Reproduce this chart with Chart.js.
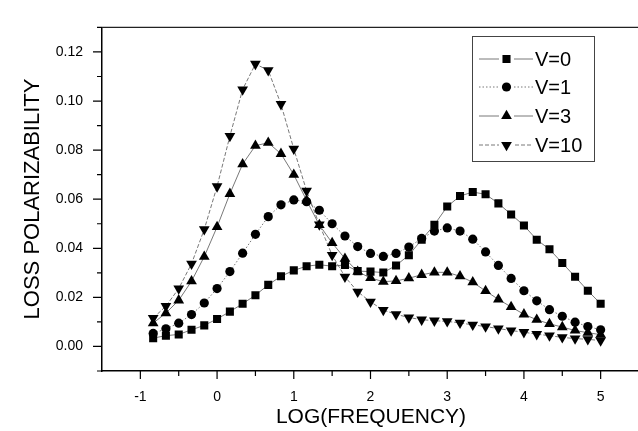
<!DOCTYPE html>
<html>
<head>
<meta charset="utf-8">
<script src="https://cdn.jsdelivr.net/npm/chart.js@4.4.1/dist/chart.umd.min.js"></script>
<style>
  html, body { margin: 0; padding: 0; background: #fff; overflow: hidden; }
  #wrap { width: 638px; height: 431px; overflow: hidden; }
</style>
</head>
<body>
<div id="wrap"><canvas id="lossChart" width="646" height="431"></canvas></div>
<script>
// log(frequency) positions of the measured points
const logFreq = [-0.833, -0.667, -0.5, -0.333, -0.167, 0, 0.167, 0.333, 0.5, 0.667, 0.833, 1,
    1.167, 1.333, 1.5, 1.667, 1.833, 2, 2.167, 2.333, 2.5, 2.667, 2.833, 3,
    3.167, 3.333, 3.5, 3.667, 3.833, 4, 4.167, 4.333, 4.5, 4.667, 4.833, 5];

const lossV0 = [0.0034, 0.0044, 0.0049, 0.0068, 0.0086, 0.0112, 0.0142, 0.0174, 0.0209, 0.0251, 0.0286, 0.031,
    0.0327, 0.0333, 0.0327, 0.0332, 0.0307, 0.0305, 0.0301, 0.033, 0.0372, 0.0435, 0.0496, 0.057,
    0.0613, 0.0629, 0.062, 0.0583, 0.0538, 0.0493, 0.0435, 0.0396, 0.034, 0.0284, 0.0227, 0.0174];
const lossV1 = [0.0053, 0.0072, 0.0095, 0.013, 0.0177, 0.0236, 0.0305, 0.038, 0.0457, 0.0529, 0.0577, 0.0597,
    0.059, 0.0555, 0.05, 0.045, 0.0407, 0.0379, 0.0367, 0.0379, 0.0405, 0.044, 0.047, 0.0483,
    0.047, 0.0437, 0.0385, 0.033, 0.0277, 0.0227, 0.0186, 0.015, 0.0123, 0.0099, 0.0081, 0.0068];
const lossV3 = [0.0095, 0.0136, 0.0188, 0.0266, 0.0366, 0.0487, 0.0622, 0.0743, 0.0818, 0.083, 0.0785, 0.07,
    0.0595, 0.0495, 0.0422, 0.0358, 0.0305, 0.0279, 0.0264, 0.0267, 0.0278, 0.0292, 0.0302, 0.0302,
    0.0286, 0.0262, 0.0226, 0.0192, 0.0161, 0.0131, 0.0109, 0.0092, 0.0079, 0.0065, 0.0056, 0.0048];
const lossV10 = [0.0116, 0.0164, 0.0236, 0.0337, 0.0477, 0.0652, 0.0857, 0.1047, 0.1151, 0.1125, 0.0987, 0.0805,
    0.0634, 0.0497, 0.0372, 0.0284, 0.0223, 0.0182, 0.0148, 0.0131, 0.0118, 0.0109, 0.0105, 0.0102,
    0.0096, 0.0088, 0.0081, 0.0073, 0.0065, 0.0058, 0.005, 0.0044, 0.0037, 0.0032, 0.0029, 0.0024];

const seriesNames = ['V=0', 'V=1', 'V=3', 'V=10'];
const xTicks = [-1, 0, 1, 2, 3, 4, 5];
const yTicks = [0, 0.02, 0.04, 0.06, 0.08, 0.10, 0.12];

const FONT = '"Liberation Sans", Arial, Helvetica, sans-serif';

function toPoints(values) {
    return values.map((v, i) => ({ x: logFreq[i], y: v }));
}

function makeSet(label, values, style, rot, radius, dash) {
    return {
        label: label,
        data: toPoints(values),
        showLine: true,
        borderColor: '#555',
        borderWidth: 0.8,
        borderDash: dash,
        pointStyle: style,
        rotation: rot,
        pointRadius: radius,
        pointBackgroundColor: '#000',
        pointBorderColor: '#000',
        pointBorderWidth: 0,
        tension: 0
    };
}

// ticks, frame, titles and legend box like the original plot
const decor = {
    id: 'decor',
    afterDraw(chart) {
        const ctx = chart.ctx;
        const a = chart.chartArea;
        const xs = chart.scales.x, ys = chart.scales.y;
        ctx.save();
        ctx.strokeStyle = '#222';
        ctx.lineWidth = 1.4;
        ctx.beginPath();
        ctx.moveTo(a.left, a.top);
        ctx.lineTo(a.right, a.top);
        ctx.stroke();

        ctx.strokeStyle = '#000';
        ctx.lineWidth = 1.2;
        ctx.beginPath();
        const yStep = yTicks[1] - yTicks[0];
        yTicks.forEach(v => {
            const p = ys.getPixelForValue(v);
            ctx.moveTo(a.left - 9, p); ctx.lineTo(a.left, p);
            [v - yStep / 2, v + yStep / 2].forEach(m => {
                if (m < ys.min || m > ys.max) return;
                const q = ys.getPixelForValue(m);
                ctx.moveTo(a.left - 5, q); ctx.lineTo(a.left, q);
            });
        });
        xTicks.forEach(v => {
            const p = xs.getPixelForValue(v);
            ctx.moveTo(p, a.bottom); ctx.lineTo(p, a.bottom + 8);
            const q = xs.getPixelForValue(v + 0.5);
            ctx.moveTo(q, a.bottom); ctx.lineTo(q, a.bottom + 5);
        });
        ctx.stroke();

        ctx.fillStyle = '#000';
        ctx.font = '21px ' + FONT;
        ctx.textAlign = 'center';
        ctx.textBaseline = 'middle';
        ctx.fillText('LOG(FREQUENCY)', (a.left + 640) / 2, 417);
        ctx.font = '22px ' + FONT;
        ctx.translate(33, 199);
        ctx.rotate(-Math.PI / 2);
        ctx.fillText('LOSS POLARIZABILITY', 0, 0);
        ctx.restore();

        // legend
        ctx.save();
        ctx.strokeStyle = '#444';
        ctx.lineWidth = 1;
        ctx.strokeRect(472.5, 36.5, 122, 125);
        ctx.font = '20px ' + FONT;
        ctx.textAlign = 'left';
        ctx.textBaseline = 'middle';
        const rowY = [59, 87, 116, 145];
        chart.data.datasets.forEach((ds, i) => {
            const y = rowY[i];
            ctx.strokeStyle = '#555';
            ctx.lineWidth = 0.8;
            ctx.setLineDash(ds.borderDash || []);
            ctx.beginPath();
            ctx.moveTo(479, y); ctx.lineTo(533, y);
            ctx.stroke();
            ctx.setLineDash([]);
            ctx.fillStyle = '#fff';
            ctx.fillRect(499, y - 6, 15, 12);
            ctx.fillStyle = '#000';
            Chart.helpers.drawPoint(ctx, {
                pointStyle: ds.pointStyle, rotation: ds.rotation,
                radius: ds.pointRadius, borderWidth: 0
            }, 506.5, y);
            ctx.fillText(ds.label, 535, y + 1);
        });
        ctx.restore();
    }
};

const ctx = document.getElementById('lossChart').getContext('2d');
new Chart(ctx, {
    type: 'scatter',
    data: {
        datasets: [
            makeSet(seriesNames[0], lossV0, 'rect', 0, 5.7, []),
            makeSet(seriesNames[1], lossV1, 'circle', 0, 4.6, [1.5, 2]),
            makeSet(seriesNames[2], lossV3, 'triangle', 0, 6.2, []),
            makeSet(seriesNames[3], lossV10, 'triangle', 180, 6.2, [4, 2])
        ]
    },
    options: {
        responsive: false,
        animation: false,
        devicePixelRatio: 1,
        layout: { padding: { left: 0, right: 7, top: 12, bottom: 0 } },
        plugins: { legend: { display: false }, tooltip: { enabled: false } },
        scales: {
            x: {
                type: 'linear',
                min: -1.5,
                max: 5.5,
                afterFit: s => { s.height = 60; },
                afterBuildTicks: s => { s.ticks = xTicks.map(v => ({ value: v })); },
                grid: { display: false, drawTicks: false },
                border: { display: true, color: '#000', width: 1.5 },
                ticks: {
                    padding: 18,
                    color: '#000',
                    font: { family: FONT, size: 14 },
                    callback: v => String(v)
                }
            },
            y: {
                type: 'linear',
                min: -0.01,
                max: 0.13,
                afterFit: s => { s.width = 102; },
                afterBuildTicks: s => { s.ticks = yTicks.map(v => ({ value: v })); },
                grid: { display: false, drawTicks: false },
                border: { display: true, color: '#000', width: 1.5 },
                ticks: {
                    padding: 19,
                    color: '#000',
                    font: { family: FONT, size: 14 },
                    callback: v => v.toFixed(2)
                }
            }
        }
    },
    plugins: [decor]
});
</script>
</body>
</html>
